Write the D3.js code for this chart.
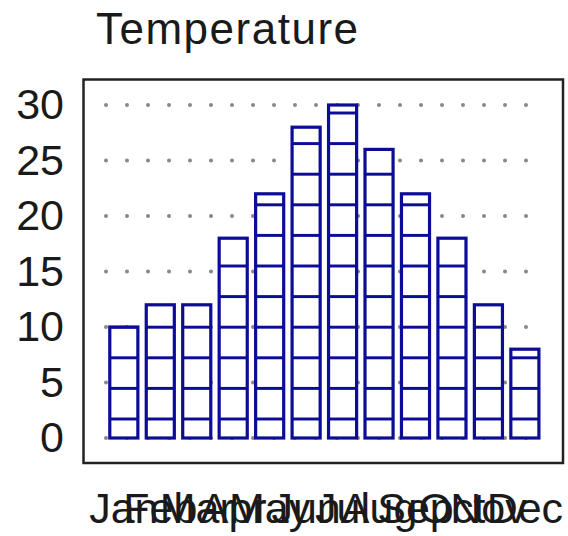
<!DOCTYPE html>
<html>
<head>
<meta charset="utf-8">
<script src="https://cdn.jsdelivr.net/npm/d3@7"></script>
<style>
  body { margin: 0; background: #fff; }
  text { font-family: "Liberation Sans", Arial, sans-serif; }
</style>
</head>
<body>
<div id="chart"></div>
<script>
// data
var months = ['Jan', 'Feb', 'Mar', 'Apr', 'May', 'Jun', 'Jul', 'Aug', 'Sep', 'Oct', 'Nov', 'Dec']
var temps = [10, 12, 12, 18, 22, 28, 30, 26, 22, 18, 12, 8]
var yTicks = [0, 5, 10, 15, 20, 25, 30]
var title = "Temperature"

var width = 568, height = 536
var barColor = "#0c0c96"

var svg = d3.select("#chart")
    .append("svg")
    .attr("width", width)
    .attr("height", height)

// scales
var x = d3.scaleBand()
    .domain(months)
    .range([105.6, 543.1])
    .paddingInner(0.23)
    .paddingOuter(0.115)

var y = d3.scaleLinear()
    .domain([0, 30])
    .range([438, 105])

// horizontal hatch pattern inside the bars
var step = 30.6
var defs = svg.append("defs")
var pat = defs.append("pattern")
    .attr("id", "hatch")
    .attr("patternUnits", "userSpaceOnUse")
    .attr("x", 0)
    .attr("y", y(0) - 19 - step / 2)
    .attr("width", width)
    .attr("height", step)
pat.append("rect")
    .attr("width", width)
    .attr("height", step)
    .attr("fill", "#fff")
pat.append("line")
    .attr("x1", 0).attr("x2", width)
    .attr("y1", step / 2).attr("y2", step / 2)
    .attr("stroke", barColor)
    .attr("stroke-width", 3.2)

// title
svg.append("text")
    .attr("x", 96)
    .attr("y", 44)
    .attr("font-size", 44)
    .attr("letter-spacing", 1.5)
    .attr("fill", "#1a1a1a")
    .text(title)

// dotted grid lines
svg.append("g")
    .selectAll("line")
    .data(yTicks)
    .enter()
    .append("line")
    .attr("x1", 106)
    .attr("x2", 543)
    .attr("y1", function(d) { return y(d) })
    .attr("y2", function(d) { return y(d) })
    .attr("stroke", "#888")
    .attr("stroke-width", 4)
    .attr("stroke-linecap", "round")
    .attr("stroke-dasharray", "0,21")

// y axis labels
var yAxis = svg.append("g")
    .attr("transform", "translate(64,0)")
    .call(d3.axisLeft(y).tickValues(yTicks).tickSize(0).tickPadding(0))
yAxis.select(".domain").remove()
yAxis.selectAll("text")
    .attr("font-size", 43)
    .attr("font-family", "Liberation Sans, Arial, sans-serif")
    .attr("fill", "#1a1a1a")

// bars
svg.append("g")
    .selectAll("rect")
    .data(temps)
    .enter()
    .append("rect")
    .attr("x", function(d, i) { return x(months[i]) })
    .attr("y", function(d) { return y(d) })
    .attr("width", x.bandwidth())
    .attr("height", function(d) { return y(0) - y(d) })
    .attr("fill", "url(#hatch)")
    .attr("stroke", barColor)
    .attr("stroke-width", 3.2)

// frame
svg.append("rect")
    .attr("x", 83.5)
    .attr("y", 79.5)
    .attr("width", 479.5)
    .attr("height", 383.5)
    .attr("fill", "none")
    .attr("stroke", "#222")
    .attr("stroke-width", 2.5)

// x axis labels (they overlap, as in the original)
var xAxis = svg.append("g")
    .attr("transform", "translate(0,490)")
    .call(d3.axisBottom(x).tickSize(0).tickPadding(0))
xAxis.select(".domain").remove()
xAxis.selectAll("text")
    .attr("font-size", 43)
    .attr("font-family", "Liberation Sans, Arial, sans-serif")
    .attr("fill", "#1a1a1a")
    .attr("dy", "0.76em")
</script>
</body>
</html>
